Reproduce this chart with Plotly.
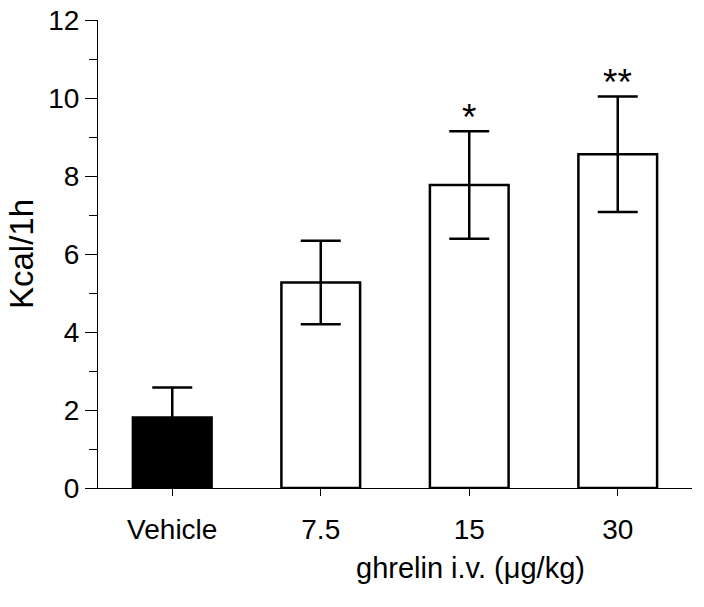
import plotly.graph_objects as go

groups = ["Vehicle", "7.5", "15", "30"]
kcal = [1.81, 5.27, 7.77, 8.56]
sem = [0.77, 1.07, 1.38, 1.48]
stars = ["", "", "*", "**"]
fills = ["black", "white", "white", "white"]

font = "Arial, Liberation Sans, sans-serif"

fig = go.Figure()
fig.add_trace(go.Bar(
    x=list(range(len(groups))), y=kcal,
    width=0.53,
    marker=dict(color=fills, line=dict(color="black", width=2.5)),
    error_y=dict(type="data", array=sem, color="black", thickness=2.5, width=20),
    showlegend=False,
))

# significance marks above the error bars
for i, (m, e, s) in enumerate(zip(kcal, sem, stars)):
    if s:
        fig.add_annotation(x=i, y=m + e, text=s, showarrow=False,
                           yanchor="bottom", yshift=-9,
                           font=dict(family=font, size=37, color="black"))

fig.add_annotation(text="ghrelin i.v. (\u03bcg/kg)", showarrow=False,
                   xref="paper", yref="paper",
                   x=(470 - 98) / (692 - 98), xanchor="center",
                   y=-0.172, yanchor="middle",
                   font=dict(family=font, size=29, color="black"))

fig.update_xaxes(
    range=[-0.5, 3.5],
    tickmode="array", tickvals=list(range(len(groups))), ticktext=groups,
    showline=True, linecolor="black", linewidth=1.2,
    ticks="outside", ticklen=7, tickwidth=1.2, tickcolor="black",
    ticklabelstandoff=9,
    tickfont=dict(family=font, size=28, color="black"),
    showgrid=False, zeroline=False,
)
fig.update_yaxes(
    range=[0, 12], dtick=2,
    showline=True, linecolor="black", linewidth=1.2,
    ticks="outside", ticklen=12, tickwidth=1.2, tickcolor="black",
    ticklabeloverflow="allow",
    minor=dict(dtick=1, ticks="outside", ticklen=8, tickwidth=1.2, tickcolor="black", showgrid=False),
    tickfont=dict(family=font, size=28, color="black"),
    title=dict(text="Kcal/1h", font=dict(family=font, size=33, color="black"), standoff=4),
    showgrid=False, zeroline=False,
)
fig.update_layout(
    width=704, height=607,
    margin=dict(l=98, r=12, t=20, b=119, autoexpand=False),
    plot_bgcolor="white", paper_bgcolor="white",
)

# drop the default page margin so the figure sits at the window's corner
fig.write_html("out.html", config={"displayModeBar": False},
               post_script="document.body.style.margin='0';")
